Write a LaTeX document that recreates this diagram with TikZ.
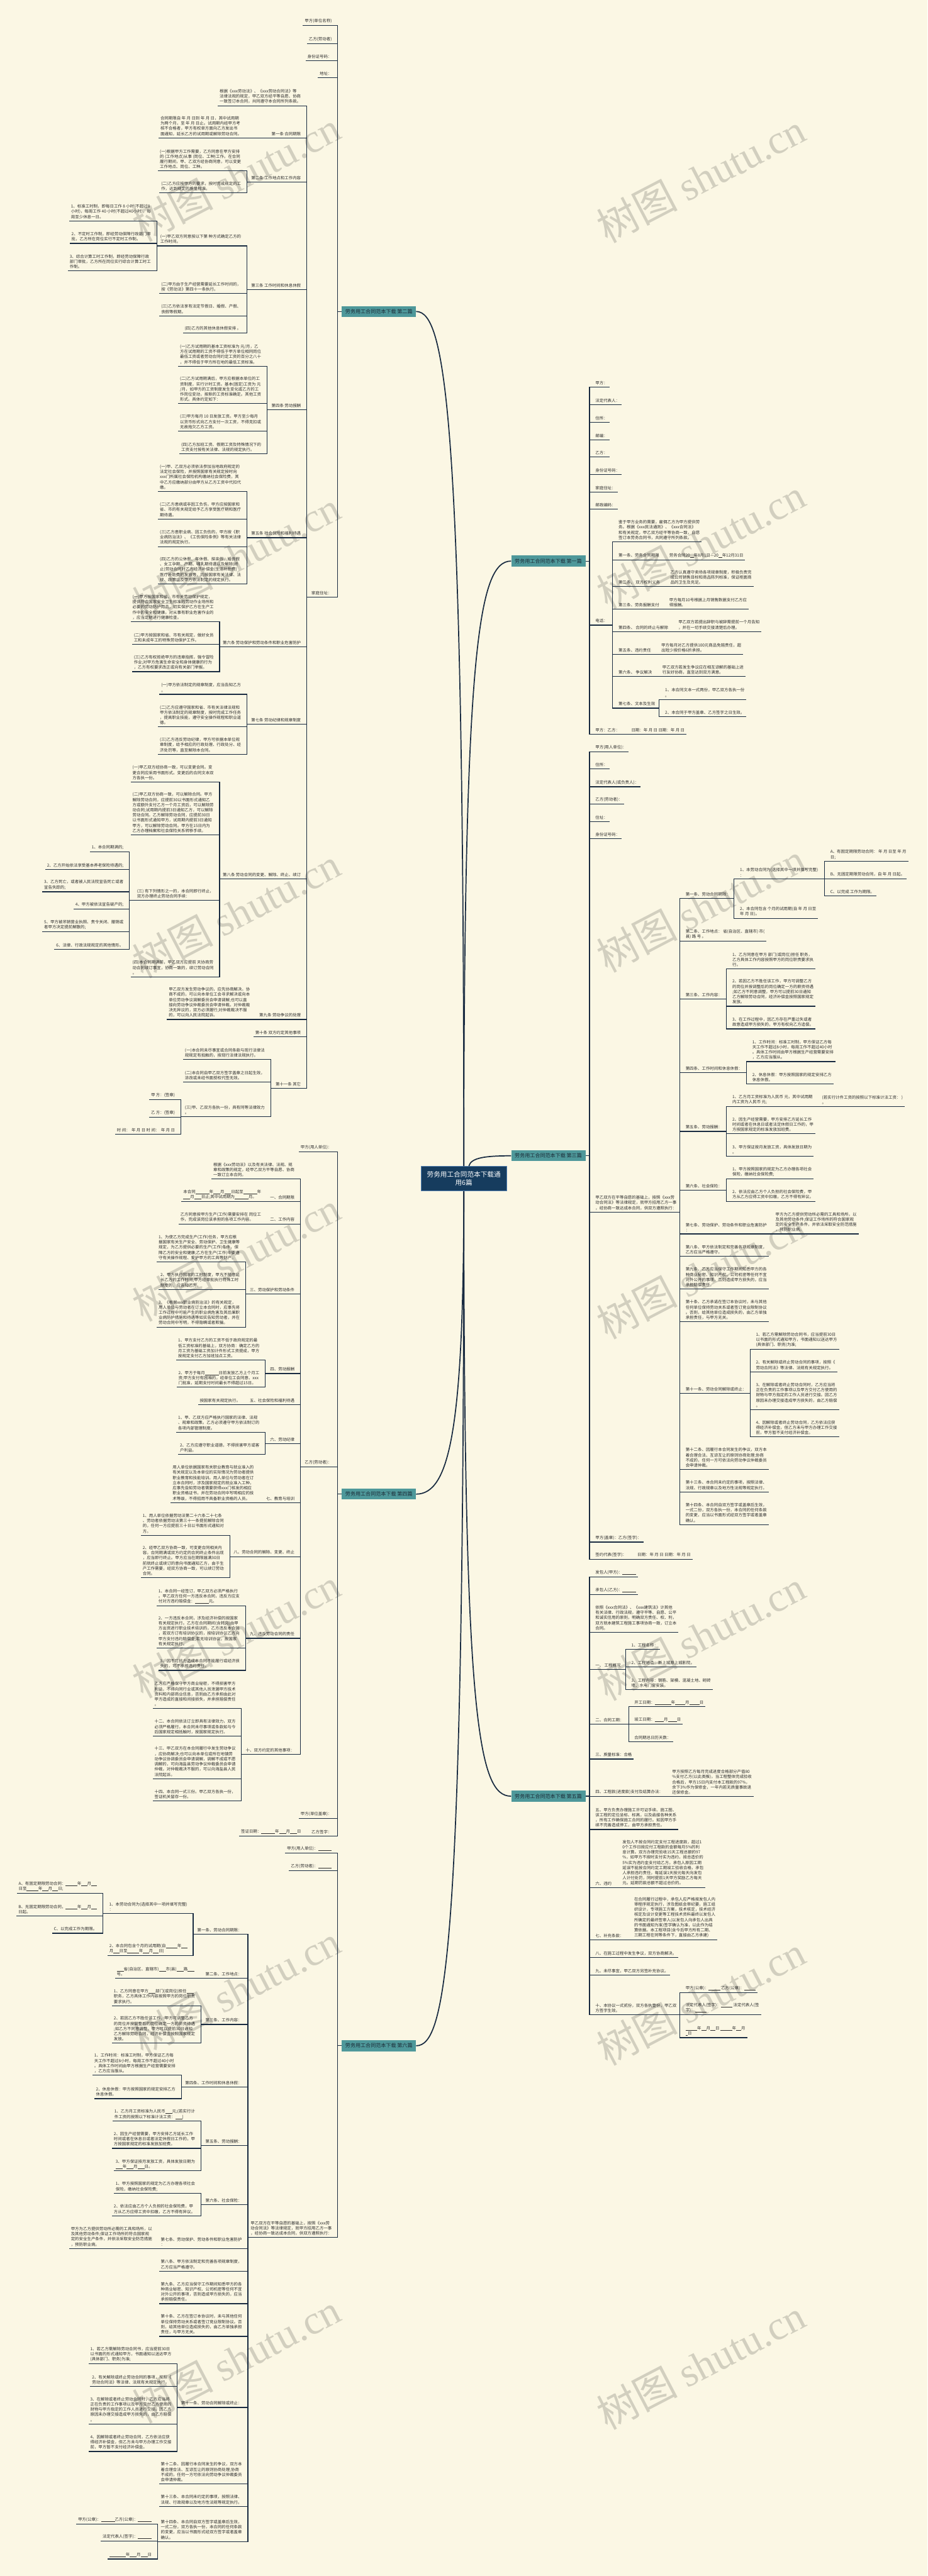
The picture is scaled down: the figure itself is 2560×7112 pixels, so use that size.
\documentclass[tikz,border=0pt]{standalone}
\usepackage{fontspec}
\setmainfont{Noto Sans CJK SC}
\newfontfamily\wmserif{Liberation Serif}

\definecolor{bgc}{RGB}{251,247,228}
\definecolor{linec}{RGB}{24,42,64}
\definecolor{txtc}{RGB}{45,45,45}
\definecolor{tealc}{RGB}{78,152,154}
\definecolor{btxt}{RGB}{28,44,56}
\definecolor{rootc}{RGB}{22,60,94}
\definecolor{rootb}{RGB}{80,125,175}
\definecolor{wmc}{RGB}{210,207,191}

\newcommand\leaffont{\fontsize{11.2}{14.3}\selectfont}
\newcommand\branchfont{\fontsize{14}{17}\selectfont}
\newcommand\rootfont{\fontsize{18.5}{23}\selectfont}
\newcommand\wmfont{\fontsize{112}{120}\selectfont}
\newcommand\blnk[1]{\rule[-1.5pt]{#1pt}{0.6pt}}

\tikzset{
  leaf/.style={align=left, inner xsep=5pt, inner ysep=6pt, text=txtc, font=\leaffont},
  rk/.style={leaf, anchor=south west, xshift=11pt},
  lk/.style={leaf, anchor=south east, xshift=-11pt},
  link/.style={draw=linec, line width=2pt},
  trunk/.style={draw=linec, line width=3pt},
  branch/.style={fill=tealc, text=btxt, font=\branchfont, minimum width=205pt, minimum height=30pt, inner xsep=9pt, inner ysep=0pt},
  root/.style={fill=rootc, draw=rootb, line width=1.5pt, text=white, font=\rootfont, align=center, minimum width=237pt, minimum height=68pt},
  wmark/.style={text=wmc, rotate=27.5, font=\wmfont},
}

\begin{document}
\begin{tikzpicture}[x=1pt, y=-1pt]
\useasboundingbox[fill=bgc] (0,0) rectangle (2560,7112);

% watermark
\node[wmark] (wm1) at (652,487) {树图 {\wmserif shutu.cn}};
\node[wmark] (wm2) at (652,1535) {树图 {\wmserif shutu.cn}};
\node[wmark] (wm3) at (652,2520) {树图 {\wmserif shutu.cn}};
\node[wmark] (wm4) at (652,3469) {树图 {\wmserif shutu.cn}};
\node[wmark] (wm5) at (652,4509) {树图 {\wmserif shutu.cn}};
\node[wmark] (wm6) at (652,5494) {树图 {\wmserif shutu.cn}};
\node[wmark] (wm7) at (652,6511) {树图 {\wmserif shutu.cn}};
\node[wmark] (wm8) at (1934,491) {树图 {\wmserif shutu.cn}};
\node[wmark] (wm9) at (1934,1501) {树图 {\wmserif shutu.cn}};
\node[wmark] (wm10) at (1934,2505) {树图 {\wmserif shutu.cn}};
\node[wmark] (wm11) at (1934,3517) {树图 {\wmserif shutu.cn}};
\node[wmark] (wm12) at (1934,4515) {树图 {\wmserif shutu.cn}};
\node[wmark] (wm13) at (1934,5523) {树图 {\wmserif shutu.cn}};
\node[wmark] (wm14) at (1934,6527) {树图 {\wmserif shutu.cn}};

% centre and the six parts
\node[root] (root) at (1280,3254) {劳务用工合同范本下载通\\用6篇};
\node[branch, anchor=east] (p1) at (1616,1549) {劳务用工合同范本下载 第一篇};
\node[branch, anchor=west] (p2) at (943,860) {劳务用工合同范本下载 第二篇};
\node[branch, anchor=east] (p3) at (1616,3191) {劳务用工合同范本下载 第三篇};
\node[branch, anchor=west] (p4) at (943,4125) {劳务用工合同范本下载 第四篇};
\node[branch, anchor=east] (p5) at (1616,4959) {劳务用工合同范本下载 第五篇};
\node[branch, anchor=west] (p6) at (943,5648) {劳务用工合同范本下载 第六篇};
\draw[trunk] (root.north) .. controls (1280,1150) and (1230,860) .. (p2.east);
\draw[trunk] (root.north) .. controls (1280,1800) and (1320,1549) .. (p1.west);
\draw[trunk] ([xshift=14pt]root.north) .. controls (1300,3196) and (1340,3191) .. (p3.west);
\draw[trunk] (root.south) .. controls (1280,3950) and (1240,4125) .. (p4.east);
\draw[trunk] (root.south) .. controls (1280,4750) and (1320,4959) .. (p5.west);
\draw[trunk] (root.south) .. controls (1280,5400) and (1230,5648) .. (p6.east);

% ---- 第一篇
\coordinate (p1x) at (1627,1549);
\node[rk] (p1a) at (1627,1069) {甲方：};
\node[rk] (p1b) at (1627,1117) {法定代表人：};
\node[rk] (p1c) at (1627,1166) {住所：};
\node[rk] (p1d) at (1627,1214) {邮编：};
\node[rk] (p1e) at (1627,1262) {乙方：};
\node[rk] (p1f) at (1627,1310) {身份证号码：};
\node[rk] (p1g) at (1627,1358) {家庭住址：};
\node[rk] (p1h) at (1627,1406) {邮政编码：};
\node[rk] (p1i) at (1627,1726) {电话：};
\coordinate (p1ix) at (1691,1726);
\node[rk] (p1j) at (1627,2027) {甲方：乙方：\hspace{32pt}日期：年 月 日 日期：年 月 日};
\draw[link] (p1.east) -- (p1x) (p1x) |- (p1a.south east) (p1x) |- (p1b.south east) (p1x) |- (p1c.south east) (p1x) |- (p1d.south east) (p1x) |- (p1e.south east) (p1x) |- (p1f.south east) (p1x) |- (p1g.south east) (p1x) |- (p1h.south east) (p1x) |- (p1ix) (p1x) |- (p1j.south east);
\node[rk] (p1i1) at (1691,1496) {鉴于甲方业务的需要，雇佣乙方为甲方提供劳\\务。根据《xxx民法通则》、《xxx合同法》\\和有关规定，甲乙双方经平等协商一致，自愿\\签订本劳务合同书，共同遵守所列条款。};
\node[rk] (p1i2) at (1691,1545.5) {第一条、劳务合同期限};
\coordinate (p1i2x) at (1831,1545.5);
\node[rk] (p1i2a) at (1831,1545.5) {劳务合同20\blnk{10}年8月1日—20\blnk{10}年12月31日};
\node[rk] (p1i3) at (1691,1619.6) {第二条、 双方权利义务};
\coordinate (p1i3x) at (1834,1619.6);
\node[rk] (p1i3a) at (1834,1619.6) {乙方认真遵守卖场各项规章制度，积极负责完\\成公司销售目标和商品陈列标准，保证柜面商\\品的卫生及充足。};
\node[rk] (p1i4) at (1691,1682) {第三条、劳务报酬支付};
\coordinate (p1i4x) at (1831,1682);
\node[rk] (p1i4a) at (1831,1682) {甲方每月10号根据上月销售数据支付乙方应\\得报酬。};
\node[rk] (p1i5) at (1691,1744) {第四条、 合同的终止与解除};
\coordinate (p1i5x) at (1856,1744);
\node[rk] (p1i5a) at (1856,1744) {甲乙双方若提出辞职与被辞需提前一个月告知\\，并在一切手续交接清楚后办理。};
\node[rk] (p1i6) at (1691,1806.6) {第五条、违约责任};
\coordinate (p1i6x) at (1809,1806.6);
\node[rk] (p1i6a) at (1809,1806.6) {甲方每月对乙方提供100元商品免赔责任，超\\出短少按价格6折承担。};
\node[rk] (p1i7) at (1691,1868) {第六条、 争议解决};
\coordinate (p1i7x) at (1812,1868);
\node[rk] (p1i7a) at (1812,1868) {甲乙双方若发生争议应在相互谅解的基础上进\\行友好协商，直至达到双方满意。};
\node[rk] (p1i8) at (1691,1955) {第七条、文本及生效};
\coordinate (p1i8x) at (1819.5,1955);
\node[rk] (p1i8a) at (1819.5,1931) {1、本合同文本一式两份，甲乙双方各执一份\\。};
\node[rk] (p1i8b) at (1819.5,1979) {2、本合同于甲方盖章、乙方签字之日生效。};
\draw[link] (p1ix) |- (p1i1.south east) (p1ix) |- (p1i2x) (p1ix) |- (p1i3x) (p1ix) |- (p1i4x) (p1ix) |- (p1i5x) (p1ix) |- (p1i6x) (p1ix) |- (p1i7x) (p1ix) |- (p1i8x);
\draw[link] (p1i2x) |- (p1i2a.south east) (p1i3x) |- (p1i3a.south east) (p1i4x) |- (p1i4a.south east) (p1i5x) |- (p1i5a.south east) (p1i6x) |- (p1i6a.south east) (p1i7x) |- (p1i7a.south east);
\draw[link] (p1i8x) |- (p1i8a.south east) (p1i8x) |- (p1i8b.south east);

% ---- 第二篇
\coordinate (p2x) at (932,860);
\node[lk] (p2a) at (932,70) {甲方(单位名称)};
\node[lk] (p2b) at (932,120) {乙方(劳动者)};
\node[lk] (p2c) at (932,167) {身份证号码：};
\node[lk] (p2d) at (932,215) {地址：};
\node[lk] (p2e) at (932,1648) {家庭住址：};
\coordinate (p2ex) at (846.5,1648);
\draw[link] (p2.west) -- (p2x) (p2x) |- (p2a.south west) (p2x) |- (p2b.south west) (p2x) |- (p2c.south west) (p2x) |- (p2d.south west) (p2x) |- (p2ex);
\node[lk] (p2e1) at (846.5,292) {根据《xxx劳动法》、《xxx劳动合同法》等\\法律法规的规定，甲乙双方经平等自愿、协商\\一致签订本合同，共同遵守本合同所列条款。};
\node[lk] (p2e2) at (846.5,381) {第一条 合同期限};
\coordinate (p2e2x) at (683,381);
\node[lk] (p2e2a) at (683,381) {合同期限自 年 月 日到 年 月 日，其中试用期\\为两个月，至 年 月 日止。试用期内经甲方考\\核不合格者，甲方有权单方面向乙方发出书\\面通知，延长乙方的试用期或解除劳动合同。};
\node[lk] (p2e3) at (846.5,502) {第二条 工作地点和工作内容};
\coordinate (p2e3x) at (681.5,502);
\node[lk] (p2e3a) at (681.5,472) {(一)根据甲方工作需要，乙方同意在甲方安排\\的 (工作地点)从事 (岗位、工种)工作。在合同\\履行期间，甲、乙双方经协商同意，可以变更\\工作地点、岗位、工种。};
\node[lk] (p2e3b) at (681.5,532.5) {(二)乙方应按甲方的要求，按时完成规定的工\\作，达到规定的质量标准。};
\node[lk] (p2e4) at (846.5,800) {第三条 工作时间和休息休假};
\coordinate (p2e4x) at (681.5,800);
\node[lk] (p2e4a) at (681.5,679) {(一)甲乙双方同意按以下第 种方式确定乙方的\\工作时间。};
\coordinate (p2e4ax) at (432.7,679);
\node[lk] (p2e4a1) at (432.7,610) {1、标准工时制，即每日工作 8 小时(不超过8\\小时)，每周工作 40 小时(不超过40小时)，每\\周至少休息一日。};
\node[lk] (p2e4a2) at (432.7,672) {2、不定时工作制，即经劳动保障行政部门审\\批，乙方所在岗位实行不定时工作制。};
\node[lk] (p2e4a3) at (432.7,748) {3、综合计算工时工作制，即经劳动保障行政\\部门审批，乙方所在岗位实行综合计算工时工\\作制。};
\node[lk] (p2e4b) at (681.5,810) {(二)甲方由于生产经营需要延长工作时间的，\\按《劳动法》第四十一条执行。};
\node[lk] (p2e4c) at (681.5,872) {(三)乙方依法享有法定节假日、婚假、产假、\\丧假等假期。};
\node[lk] (p2e4d) at (681.5,919) {(四)乙方的其他休息休假安排 。};
\node[lk] (p2e5) at (846.5,1131) {第四条 劳动报酬};
\coordinate (p2e5x) at (737,1131);
\node[lk] (p2e5a) at (737,1011) {(一)乙方试用期的基本工资标准为 元/月，乙\\方在试用期的工资不得低于甲方单位相同岗位\\最低工资或者劳动合同约定工资的百分之八十\\，并不得低于甲方所在地的最低工资标准。};
\node[lk] (p2e5b) at (737,1114.5) {(二)乙方试用期满后，甲方应根据本单位的工\\资制度，实行计时工资。基本(固定)工资为 元\\/月，如甲方的工资制度发生变化或乙方的工\\作岗位变动，按新的工资标准确定。其他工资\\形式。具体约定如下：};
\node[lk] (p2e5c) at (737,1190) {(三)甲方每月 10 日发放工资。甲方至少每月\\以货币形式向乙方支付一次工资，不得克扣或\\无故拖欠乙方工资。};
\node[lk] (p2e5d) at (737,1252.6) {(四)乙方加班工资、假期工资及特殊情况下的\\工资支付按有关法律、法规的规定执行。};
\node[lk] (p2e6) at (846.5,1484.6) {第五条 社会保险和福利待遇};
\coordinate (p2e6x) at (681.5,1484.6);
\node[lk] (p2e6a) at (681.5,1357) {(一)甲、乙双方必须依法参加当地政府规定的\\法定社会保险，并按照国家有关规定按时向\\xxx门所属社会保险机构缴纳社会保险费，其\\中乙方应缴纳部分由甲方从乙方工资中代扣代\\缴。};
\node[lk] (p2e6b) at (681.5,1433) {(二)乙方患病或非因工负伤，甲方应按国家和\\省、市的有关规定给予乙方享受医疗期和医疗\\期待遇。};
\node[lk] (p2e6c) at (681.5,1509) {(三)乙方患职业病、因工负伤的，甲方按《职\\业病防治法》、《工伤保险条例》等有关法律\\法规的规定执行。};
\node[lk] (p2e6d) at (681.5,1612) {(四)乙方的公休假、年休假、探亲假、婚丧假\\、女工孕期、产期、哺乳期待遇以及解除(终\\止)劳动合同时乙方经济补偿金(生活补助费)\\医疗补助费的发放等，均按国家有关法律、法\\规、政策以及甲方依法制定的规定执行。};
\node[lk] (p2e7) at (846.5,1786) {第六条 劳动保护和劳动条件和职业危害防护};
\coordinate (p2e7x) at (606,1786);
\node[lk] (p2e7a) at (606,1716.6) {(一)甲方按国家和省、市有关劳动保护规定，\\提供符合国家安全卫生标准的劳动作业场所和\\必要的劳动防护用品，切实保护乙方在生产工\\作中的安全和健康。对从事有职业危害作业的\\，应当定期进行健康检查。};
\node[lk] (p2e7b) at (606,1779) {(二)甲方按国家和省、市有关规定，做好女员\\工和未成年工的特殊劳动保护工作。};
\node[lk] (p2e7c) at (606,1854.5) {(三)乙方有权拒绝甲方的违章指挥，强令冒险\\作业;对甲方危害生命安全和身体健康的行为\\，乙方有权要求改正或向有关部门举报。};
\node[lk] (p2e8) at (846.5,2000) {第七条 劳动纪律和规章制度};
\coordinate (p2e8x) at (681.5,2000);
\node[lk] (p2e8a) at (681.5,1917) {(一)甲方依法制定的规章制度，应当告知乙方\\。};
\node[lk] (p2e8b) at (681.5,2007) {(二)乙方应遵守国家和省、市有关法律法规和\\甲方依法制定的规章制度，按时完成工作任务\\，提高职业技能，遵守安全操作规程和职业道\\德。};
\node[lk] (p2e8c) at (681.5,2082.5) {(三)乙方违反劳动纪律，甲方可依据本单位规\\章制度，给予相应的行政处理、行政处分、经\\济处罚等，直至解除本合同。};
\node[lk] (p2e9) at (846.5,2427) {第八条 劳动合同的变更、解除、终止、续订};
\coordinate (p2e9x) at (606,2427);
\node[lk] (p2e9a) at (606,2159) {(一)甲乙双方经协商一致，可以变更合同。变\\更合同应采用书面形式。变更后的合同文本双\\方各执一份。};
\node[lk] (p2e9b) at (606,2305) {(二)甲乙双方协商一致，可以解除合同。甲方\\解除劳动合同，应提前30以书面形式通知乙\\方或额外支付乙方一个月工资后，可以解除劳\\动合同;试用期内提前3日通知乙方，可以解除\\劳动合同。乙方解除劳动合同，应提前30日\\以书面形式通知甲方，试用期内提前3日通知\\甲方，可以解除劳动合同。甲方在15日内为\\乙方办理档案和社会保险关系转移手续。};
\node[lk] (p2e9c) at (606,2486) {(三) 有下列情形之一的，本合同即行终止，\\双方办理终止劳动合同手续：};
\coordinate (p2e9cx) at (357,2486);
\node[lk] (p2e9c1) at (357,2352) {1、本合同期满的;};
\node[lk] (p2e9c2) at (357,2401) {2、乙方开始依法享受基本养老保险待遇的;};
\node[lk] (p2e9c3) at (357,2462) {3、乙方死亡，或者被人民法院宣告死亡或者\\宣告失踪的;};
\node[lk] (p2e9c4) at (357,2510) {4、甲方被依法宣告破产的;};
\node[lk] (p2e9c5) at (357,2572) {5、甲方被吊销营业执照、责令关闭、撤销或\\者甲方决定提前解散的;};
\node[lk] (p2e9c6) at (357,2621) {6、法律、行政法规规定的其他情形。};
\node[lk] (p2e9d) at (606,2697) {(四)本合同期满前，甲乙双方应提前 天协商劳\\动合同续订事宜，协商一致的，续订劳动合同\\。};
\node[lk] (p2e10) at (846.5,2814.5) {第九条 劳动争议的处理};
\coordinate (p2e10x) at (706,2814.5);
\node[lk] (p2e10a) at (706,2814.5) {甲乙双方发生劳动争议的，应先协商解决。协\\商不成的，可以向本单位工会寻求解决或向本\\单位劳动争议调解委员会申请调解;也可以直\\接向劳动争议仲裁委员会申请仲裁。对仲裁裁\\决无异议的，双方必须履行;对仲裁裁决不服\\的，可以向人民法院起诉。};
\node[lk] (p2e11) at (846.5,2862) {第十条 双方约定其他事项};
\node[lk] (p2e12) at (846.5,3004) {第十一条 其它};
\coordinate (p2e12x) at (747,3004);
\node[lk] (p2e12a) at (747,2925) {(一)本合同未尽事宜或合同条款与现行法律法\\规规定有抵触的，按现行法律法规执行。};
\node[lk] (p2e12b) at (747,2987.5) {(二)本合同自甲乙双方签字盖章之日起生效，\\涂改或未经书面授权代签无效。};
\node[lk] (p2e12c) at (747,3083) {(三)甲、乙双方各执一份，具有同等法律效力\\。};
\coordinate (p2e12cx) at (499,3083);
\node[lk] (p2e12c1) at (499,3036) {甲 方：(签章)};
\node[lk] (p2e12c2) at (499,3084) {乙 方：(签章)};
\node[lk] (p2e12c3) at (499,3131) {时 间：\hspace{4pt}年 月 日 时 间：\hspace{4pt}年 月 日};
\draw[link] (p2ex) |- (p2e1.south west) (p2ex) |- (p2e2x) (p2ex) |- (p2e3x) (p2ex) |- (p2e4x) (p2ex) |- (p2e5x) (p2ex) |- (p2e6x) (p2ex) |- (p2e7x) (p2ex) |- (p2e8x) (p2ex) |- (p2e9x) (p2ex) |- (p2e10x) (p2ex) |- (p2e11.south west) (p2ex) |- (p2e12x);
\draw[link] (p2e2x) |- (p2e2a.south west) (p2e10x) |- (p2e10a.south west);
\draw[link] (p2e3x) |- (p2e3a.south west) (p2e3x) |- (p2e3b.south west);
\draw[link] (p2e4x) |- (p2e4ax) (p2e4x) |- (p2e4b.south west) (p2e4x) |- (p2e4c.south west) (p2e4x) |- (p2e4d.south west);
\draw[link] (p2e4ax) |- (p2e4a1.south west) (p2e4ax) |- (p2e4a2.south west) (p2e4ax) |- (p2e4a3.south west);
\draw[link] (p2e5x) |- (p2e5a.south west) (p2e5x) |- (p2e5b.south west) (p2e5x) |- (p2e5c.south west) (p2e5x) |- (p2e5d.south west);
\draw[link] (p2e6x) |- (p2e6a.south west) (p2e6x) |- (p2e6b.south west) (p2e6x) |- (p2e6c.south west) (p2e6x) |- (p2e6d.south west);
\draw[link] (p2e7x) |- (p2e7a.south west) (p2e7x) |- (p2e7b.south west) (p2e7x) |- (p2e7c.south west);
\draw[link] (p2e8x) |- (p2e8a.south west) (p2e8x) |- (p2e8b.south west) (p2e8x) |- (p2e8c.south west);
\draw[link] (p2e9x) |- (p2e9a.south west) (p2e9x) |- (p2e9b.south west) (p2e9x) |- (p2e9cx) (p2e9x) |- (p2e9d.south west);
\draw[link] (p2e9cx) |- (p2e9c1.south west) (p2e9cx) |- (p2e9c2.south west) (p2e9cx) |- (p2e9c3.south west) (p2e9cx) |- (p2e9c4.south west) (p2e9cx) |- (p2e9c5.south west) (p2e9cx) |- (p2e9c6.south west);
\draw[link] (p2e12x) |- (p2e12a.south west) (p2e12x) |- (p2e12b.south west) (p2e12x) |- (p2e12cx);
\draw[link] (p2e12cx) |- (p2e12c1.south west) (p2e12cx) |- (p2e12c2.south west) (p2e12cx) |- (p2e12c3.south west);

% ---- 第三篇
\coordinate (p3x) at (1627,3191);
\node[rk] (p3a) at (1627,2076) {甲方(用人单位)：};
\node[rk] (p3b) at (1627,2123) {住所：};
\node[rk] (p3c) at (1627,2172) {法定代表人(或负责人)：};
\node[rk] (p3d) at (1627,2220) {乙方(劳动者)：};
\node[rk] (p3e) at (1627,2268) {住址：};
\node[rk] (p3f) at (1627,2315.5) {身份证号码：};
\node[rk] (p3g) at (1627,3346.6) {甲乙双方在平等自愿的基础上，按照《xxx劳\\动合同法》等法律规定，就甲方招用乙方一事\\，经协商一致达成本合同，供双方遵照执行：};
\coordinate (p3gx) at (1876,3346.6);
\node[rk] (p3h) at (1627,4257.4) {甲方(盖章)：乙方(签字)：};
\node[rk] (p3i) at (1627,4305) {签约代表(签字)：\hspace{30pt}日期：年 月 日 日期：年 月 日};
\draw[link] (p3.east) -- (p3x) (p3x) |- (p3a.south east) (p3x) |- (p3b.south east) (p3x) |- (p3c.south east) (p3x) |- (p3d.south east) (p3x) |- (p3e.south east) (p3x) |- (p3f.south east) (p3x) |- (p3gx) (p3x) |- (p3h.south east) (p3x) |- (p3i.south east);
\node[rk] (p3g1) at (1876,2481) {第一条、劳动合同期限：};
\coordinate (p3g1x) at (2026,2481);
\node[rk] (p3g1a) at (2026,2427) {1、本劳动合同为(选择其中一项并填写完整)\\：};
\coordinate (p3g1ax) at (2275.5,2427);
\node[rk] (p3g1a1) at (2275.5,2378.6) {A、有固定期限劳动合同： 年 月 日至 年 月\\日;};
\node[rk] (p3g1a2) at (2275.5,2426) {B、无固定期限劳动合同，自 年 月 日起。};
\node[rk] (p3g1a3) at (2275.5,2474) {C、以完成 工作为期限。};
\node[rk] (p3g1b) at (2026,2536) {2、本合同包含 个月的试用期(自 年 月 日至\\年 月 日)。};
\node[rk] (p3g2) at (1876,2598) {第二条、工作地点： 省(自治区、直辖市) 市(\\县) 路 号 。};
\node[rk] (p3g3) at (1876,2758) {第三条、工作内容：};
\coordinate (p3g3x) at (2005,2758);
\node[rk] (p3g3a) at (2005,2675) {1、乙方同意在甲方 部门(或岗位)担任 职务，\\乙方具体工作内容按照甲方的岗位职责要求执\\行。};
\node[rk] (p3g3b) at (2005,2778) {2、若因乙方不胜任该工作，甲方可调整乙方\\的岗位并按调整后的岗位确定一方的薪资待遇\\;如乙方不同意调整，甲方可以提前30日通知\\乙方解除劳动合同，经济补偿金按照国家规定\\发放。};
\node[rk] (p3g3c) at (2005,2840.6) {3、在工作过程中，因乙方存在严重过失或者\\故意造成甲方损失的，甲方有权向乙方追偿。};
\node[rk] (p3g4) at (1876,2961.6) {第四条、工作时间和休息休假：};
\coordinate (p3g4x) at (2060,2961.6);
\node[rk] (p3g4a) at (2060,2931) {1、工作时间：标准工时制，甲方保证乙方每\\天工作不超过8小时，每周工作不超过40小时\\。具体工作时间由甲方根据生产经营需要安排\\，乙方应当服从。};
\node[rk] (p3g4b) at (2060,2992.4) {2、休息休假：甲方按照国家的规定安排乙方\\休息休假。};
\node[rk] (p3g5) at (1876,3123.7) {第五条、劳动报酬：};
\coordinate (p3g5x) at (2005,3123.7);
\node[rk] (p3g5a) at (2005,3054.8) {1、乙方月工资标准为人民币 元，其中试用期\\内工资为人民币 元;};
\coordinate (p3g5ax) at (2252.6,3054.8);
\node[rk] (p3g5a1) at (2252.6,3054.8) {(若实行计件工资的按照以下标准计法工资： )\\。};
\node[rk] (p3g5b) at (2005,3130.3) {2、因生产经营需要，甲方安排乙方延长工作\\时间或者在休息日或者法定休假日工作的，甲\\方按国家规定的标准发放加班费。};
\node[rk] (p3g5c) at (2005,3192.5) {3、甲方保证按月发放工资，具体发放日期为\\。};
\node[rk] (p3g6) at (1876,3285.7) {第六条、社会保险：};
\coordinate (p3g6x) at (2005,3285.7);
\node[rk] (p3g6a) at (2005,3255) {1、甲方按照国家的规定为乙方办理各项社会\\保险，缴纳社会保险费;};
\node[rk] (p3g6b) at (2005,3316.5) {2、依法应由乙方个人负担的社会保险费，甲\\方从乙方应得工资中扣缴，乙方不得有异议。};
\node[rk] (p3g7) at (1876,3406.7) {第七条、劳动保护、劳动条件和职业危害防护\\：};
\coordinate (p3g7x) at (2124,3406.7);
\node[rk] (p3g7a) at (2124,3406.7) {甲方为乙方提供劳动所必需的工具和场所，以\\及其他劳动条件;保证工作场所的符合国家规\\定的安全生产条件，并依法采取安全防范措施\\，预防职业病。};
\node[rk] (p3g8) at (1876,3469) {第八条、甲方依法制定和完善各项规章制度，\\乙方应当严格遵守。};
\node[rk] (p3g9) at (1876,3559) {第九条、乙方应当保守工作期间知悉甲方的各\\种商业秘密、知识产权、公司机密等任何不宜\\对外公开的事项，否则造成甲方损失的，应当\\承担赔偿责任。};
\node[rk] (p3g10) at (1876,3649.5) {第十条、乙方承诺在签订本协议时，未与其他\\任何单位保持劳动关系或者签订竞业限制协议\\。否则，给其他单位造成损失的，由乙方单独\\承担责任，与甲方无关。};
\node[rk] (p3g11) at (1876,3846.7) {第十一条、劳动合同解除或终止：};
\coordinate (p3g11x) at (2070,3846.7);
\node[rk] (p3g11a) at (2070,3725.7) {1、若乙方需解除劳动合同书，应当提前30日\\以书面的形式通知甲方，书面通知以送达甲方\\(具体部门、职务)为准;};
\node[rk] (p3g11b) at (2070,3787.3) {2、有关解除或终止劳动合同的事项，按照《\\劳动合同法》等法律、法规有关规定执行。};
\node[rk] (p3g11c) at (2070,3891.5) {3、在解除或者终止劳动合同时，乙方应当将\\正在负责的工作事项以及甲方交付乙方使用的\\财物与甲方指定的工作人员进行交接。因乙方\\原因未办理交接造成甲方损失的，由乙方赔偿\\。};
\node[rk] (p3g11d) at (2070,3967) {4、因解除或者终止劳动合同，乙方依法应获\\得经济补偿金，但乙方未与甲方办理工作交接\\前，甲方暂不支付经济补偿金。};
\node[rk] (p3g12) at (1876,4057) {第十二条、因履行本合同发生的争议，双方本\\着合理合法、互谅互让的原则协商处理;协商\\不成的，任何一方可依法向劳动争议仲裁委员\\会申请仲裁。};
\node[rk] (p3g13) at (1876,4119) {第十三条、本合同未约定的事项，按照法律、\\法规、行政规章以及地方性法规等规定执行。};
\node[rk] (p3g14) at (1876,4209) {第十四条、本合同自双方签字或盖章后生效，\\一式二份，双方各执一份，本合同的任何条款\\的变更，应当以书面形式经双方签字或者盖章\\确认。};
\draw[link] (p3gx) |- (p3g1x) (p3gx) |- (p3g2.south east) (p3gx) |- (p3g3x) (p3gx) |- (p3g4x) (p3gx) |- (p3g5x) (p3gx) |- (p3g6x) (p3gx) |- (p3g7x) (p3gx) |- (p3g8.south east) (p3gx) |- (p3g9.south east) (p3gx) |- (p3g10.south east) (p3gx) |- (p3g11x) (p3gx) |- (p3g12.south east) (p3gx) |- (p3g13.south east) (p3gx) |- (p3g14.south east);
\draw[link] (p3g1x) |- (p3g1ax) (p3g1x) |- (p3g1b.south east);
\draw[link] (p3g1ax) |- (p3g1a1.south east) (p3g1ax) |- (p3g1a2.south east) (p3g1ax) |- (p3g1a3.south east);
\draw[link] (p3g3x) |- (p3g3a.south east) (p3g3x) |- (p3g3b.south east) (p3g3x) |- (p3g3c.south east);
\draw[link] (p3g4x) |- (p3g4a.south east) (p3g4x) |- (p3g4b.south east);
\draw[link] (p3g5x) |- (p3g5ax) (p3g5x) |- (p3g5b.south east) (p3g5x) |- (p3g5c.south east) (p3g5ax) |- (p3g5a1.south east);
\draw[link] (p3g6x) |- (p3g6a.south east) (p3g6x) |- (p3g6b.south east) (p3g7x) |- (p3g7a.south east);
\draw[link] (p3g11x) |- (p3g11a.south east) (p3g11x) |- (p3g11b.south east) (p3g11x) |- (p3g11c.south east) (p3g11x) |- (p3g11d.south east);

% ---- 第四篇
\coordinate (p4x) at (932,4125);
\node[lk] (p4a) at (932,3180) {甲方(用人单位)：};
\node[lk] (p4b) at (932,4050) {乙方(劳动者)：};
\coordinate (p4bx) at (829,4050);
\node[lk] (p4c) at (932,5020) {甲方(单位盖章)：};
\node[lk] (p4d) at (932,5068.6) {乙方签字：};
\coordinate (p4dx) at (847,5068.6);
\node[lk] (p4d1) at (847,5068.6) {签证日期：\blnk{38}年\blnk{19}月\blnk{19}日};
\draw[link] (p4.west) -- (p4x) (p4x) |- (p4a.south west) (p4x) |- (p4bx) (p4x) |- (p4c.south west) (p4x) |- (p4dx) (p4dx) |- (p4d1.south west);
\node[lk] (p4b1) at (829,3255.4) {根据《xxx劳动法》以及有关法律、法规、规\\章和政策的规定，经甲乙双方平等自愿、协商\\一致订立本合同。};
\node[lk] (p4b2) at (829,3317.6) {一、合同期限};
\coordinate (p4b2x) at (737,3317.6);
\node[lk] (p4b2a) at (737,3317.6) {本合同\blnk{38}年\blnk{19}月\blnk{19}日起至\blnk{38}年\\\blnk{19}月\blnk{19}日止;其中试用期为\blnk{38}月。};
\node[lk] (p4b3) at (829,3379) {二、工作内容};
\coordinate (p4b3x) at (737,3379);
\node[lk] (p4b3a) at (737,3379) {乙方同意按甲方生产(工作)需要安排在 岗位工\\作，完成该岗位该承担的各项工作内容。};
\node[lk] (p4b4) at (829,3573) {三、劳动保护和劳动条件};
\coordinate (p4b4x) at (678,3573);
\node[lk] (p4b4a) at (678,3484) {1、为使乙方完成生产(工作)任务，甲方应根\\据国家有关生产安全、劳动保护、卫生健康等\\规定，为乙方提供必要的生产(工作)条件，保\\障乙方的安全和健康;乙方在生产(工作)中要遵\\守有关操作规程、爱护甲方的工具等财产。};
\node[lk] (p4b4b) at (678,3560) {2、甲方执行国家的工时制度，甲方不随意延\\长乙方的工作时间;甲方经审批执行特殊工时\\制度的，应告知乙方。};
\node[lk] (p4b4c) at (678,3664) {3、《根据xxx职业病防治法》的有关规定，\\用人单位与劳动者在订立本合同时，应事先将\\工作过程中可能产生的职业病危害及其后果职\\业病防护措施和待遇等如实告知劳动者，并在\\劳动合同中写明，不得隐瞒或者欺骗。};
\node[lk] (p4b5) at (829,3792) {四、劳动报酬};
\coordinate (p4b5x) at (732,3792);
\node[lk] (p4b5a) at (732,3755) {1、甲方支付乙方的工资不低于政府规定的最\\低工资标准的基础上，双方协商：确定乙方的\\月工资为基础工资加计件形式工资提成，甲方\\按规定支付乙方加班加点工资。};
\node[lk] (p4b5b) at (732,3830) {2、甲方于每月\blnk{38}日前发放乙方上个月工\\资;甲方支付有困难的，经单位工会同意、xxx\\门批准，延期支付时间最长不得超过15日。};
\node[lk] (p4b6) at (829,3878) {五、社会保险和福利待遇};
\coordinate (p4b6x) at (679.5,3878);
\node[lk] (p4b6a) at (679.5,3878) {按国家有关规定执行。};
\node[lk] (p4b7) at (829,3986) {六、劳动纪律};
\coordinate (p4b7x) at (732,3986);
\node[lk] (p4b7a) at (732,3954) {1、甲、乙双方应严格执行国家的法律、法规\\、规章和政策。乙方必须遵守甲方依法制订的\\各项内部管理制度。};
\node[lk] (p4b7b) at (732,4015) {2、乙方应遵守职业道德，不得损害甲方或客\\户利益。};
\node[lk] (p4b8) at (829,4148.5) {七、教育与培训};
\coordinate (p4b8x) at (716.7,4148.5);
\node[lk] (p4b8a) at (716.7,4148.5) {用人单位依据国家有关职业教育与就业准入的\\有关规定以及本单位的实际情况为劳动者提供\\职业教育和技能培训。用人单位与劳动者在订\\立本合同时，涉及国家规定的就业准入工种，\\应事先告知劳动者需要获得xxx门核发的相应\\职业资格证书，并在劳动合同中写明相应的技\\术等级，不得招用不具备职业资格的人员。};
\node[lk] (p4b9) at (829,4297.5) {八、劳动合同的解除、变更、终止};
\coordinate (p4b9x) at (634,4297.5);
\node[lk] (p4b9a) at (634,4238.6) {1、用人单位依据劳动法第二十六条二十七条\\、劳动者依据劳动法第三十一条提前解除合同\\的，任何一方应提前三十日以书面形式通知对\\方。};
\node[lk] (p4b9b) at (634,4355.7) {2、经甲乙双方协商一致，可变更合同相关内\\容。合同期满或双方约定的合同终止条件出现\\，应当即行终止。甲方应当在期限届满30日\\前就终止或续订的意向书面通知乙方，由于生\\产工作需要，经双方协商一致，可以续订劳动\\合同。};
\node[lk] (p4b10) at (829,4523) {九、违反劳动合同的责任};
\coordinate (p4b10x) at (677.5,4523);
\node[lk] (p4b10a) at (677.5,4433) {1、本合同一经签订，甲乙双方必须严格执行\\。甲乙双方任何一方违反本合同，违反方应支\\付对方违约赔偿金：\blnk{38}元。};
\node[lk] (p4b10b) at (677.5,4550) {2、一方违反本合同，涉及经济补偿的按国家\\有关规定执行。乙方在合同期间(含转岗)由甲\\方出资进行职业技术培训的，乙方违反本合同\\，若双方订有培训协议的，按培训协议乙方向\\甲方支付违约赔偿金;若无培训协议，按国家\\有关规定执行。};
\node[lk] (p4b10c) at (677.5,4611.6) {3、因不可抗力造成本合同不能履行或经济损\\失的，可不承担违约责任。};
\node[lk] (p4b11) at (829,4843.8) {十、双方约定的其他事项：};
\coordinate (p4b11x) at (666.6,4843.8);
\node[lk] (p4b11a) at (666.6,4717) {乙方应严格保守甲方商业秘密，不得损害甲方\\利益，不得向同行业或其他人员泄漏甲方技术\\资料和内部商业信息，否则由乙方承担由此对\\甲方造成的直接和间接损失，并承担赔偿责任\\。};
\node[lk] (p4b11b) at (666.6,4793.4) {十二、本合同依法订立即具有法律效力，双方\\必须严格履行。本合同未尽事项或条款如与今\\后国家规定相抵触时，按国家规定执行。};
\node[lk] (p4b11c) at (666.6,4910.8) {十三、甲乙双方在本合同履行中发生劳动争议\\，应协商解决;也可以向本单位或所在地镇劳\\动争议协调委员会申请调解，调解不成或不愿\\调解的，可向海盐县劳动争议仲裁委员会申请\\仲裁，对仲裁裁决不服的，可以向海盐县人民\\法院起诉。};
\node[lk] (p4b11d) at (666.6,4972) {十四、本合同一式三份。甲乙双方各执一份，\\签证机关留存一份。};
\draw[link] (p4bx) |- (p4b1.south west) (p4bx) |- (p4b2x) (p4bx) |- (p4b3x) (p4bx) |- (p4b4x) (p4bx) |- (p4b5x) (p4bx) |- (p4b6x) (p4bx) |- (p4b7x) (p4bx) |- (p4b8x) (p4bx) |- (p4b9x) (p4bx) |- (p4b10x) (p4bx) |- (p4b11x);
\draw[link] (p4b2x) |- (p4b2a.south west) (p4b3x) |- (p4b3a.south west) (p4b6x) |- (p4b6a.south west) (p4b8x) |- (p4b8a.south west);
\draw[link] (p4b4x) |- (p4b4a.south west) (p4b4x) |- (p4b4b.south west) (p4b4x) |- (p4b4c.south west);
\draw[link] (p4b5x) |- (p4b5a.south west) (p4b5x) |- (p4b5b.south west) (p4b7x) |- (p4b7a.south west) (p4b7x) |- (p4b7b.south west);
\draw[link] (p4b9x) |- (p4b9a.south west) (p4b9x) |- (p4b9b.south west);
\draw[link] (p4b10x) |- (p4b10a.south west) (p4b10x) |- (p4b10b.south west) (p4b10x) |- (p4b10c.south west);
\draw[link] (p4b11x) |- (p4b11a.south west) (p4b11x) |- (p4b11b.south west) (p4b11x) |- (p4b11c.south west) (p4b11x) |- (p4b11d.south west);

% ---- 第五篇
\coordinate (p5x) at (1627,4959);
\node[rk] (p5a) at (1627,4354) {发包人(甲方)：\blnk{38}};
\node[rk] (p5b) at (1627,4402.5) {承包人(乙方)：\blnk{38}};
\node[rk] (p5c) at (1627,4506.7) {依照《xxx合同法》、《xxx建筑法》计其他\\有关法律、行政法规，遵守平等、自愿、公平\\和诚实信用的原则，明确双方责任、权、利，\\双方就本建筑工程施工事项协商一致，订立本\\合同。};
\node[rk] (p5d) at (1627,4609.4) {一、 工程概况};
\coordinate (p5dx) at (1726.6,4609.4);
\node[rk] (p5d1) at (1726.6,4553.6) {1、工程名称：};
\node[rk] (p5d2) at (1726.6,4602) {2、工程地点：新上城原上城影院。};
\node[rk] (p5d3) at (1726.6,4664.4) {3、工程内容：钢筋、架模、混凝土地、砌砖\\墙、水电门窗安装。};
\node[rk] (p5e) at (1627,4760.5) {二、合同工期：};
\coordinate (p5ex) at (1734.8,4760.5);
\node[rk] (p5e1) at (1734.8,4712) {开工日期：\blnk{45}年\blnk{28}月\blnk{28}日};
\node[rk] (p5e2) at (1734.8,4759.7) {竣工日期：\blnk{25}月\blnk{25}日};
\node[rk] (p5e3) at (1734.8,4809) {合同期总日历天数：};
\node[rk] (p5f) at (1627,4856.5) {三、质量标准：合格};
\node[rk] (p5g) at (1627,4960) {四、工程款(进度款)支付及结算办法：};
\coordinate (p5gx) at (1839,4960);
\node[rk] (p5g1) at (1839,4960) {甲方按照乙方每月完成进度合格部分产值80\\\%支付乙方(以此类推)，当工程整体完成验收\\合格后，甲方15日内支付本工程款的97\%，\\余下3\%作为保修金，一年内若无质量事故退\\还保修金。};
\node[rk] (p5h) at (1627,5051) {五、甲方负责办理施工许可证手续、施工图、\\该工程的定位坐标、标高，以及函接各种关系\\，所有工作确保施工合同的履行。如因甲方手\\续不完善造成停工，由甲方承担责任。};
\node[rk] (p5i) at (1627,5210.8) {六、违约};
\coordinate (p5ix) at (1701.6,5210.8);
\node[rk] (p5i1) at (1701.6,5210.8) {发包人不按合同约定支付工程进度款，超过1\\0个工作日按应付工程款的金额每月5\%的利\\息计算。双方办理完验收15天工程总额的97\\\%，如甲方不按时支付实为违约，按总造价的\\5\%实为违约金支付给乙方。承包人原因工期\\延误不能按合同约定工期竣工验收合格，承包\\人承担违约责任，每延误1天按元每天向发包\\人计付处罚，同时提前1天甲方奖励乙方每天\\元。延期罚款总额不超过总价的。};
\node[rk] (p5j) at (1627,5356) {七、补充条款：};
\coordinate (p5jx) at (1734,5356);
\node[rk] (p5j1) at (1734,5356) {在合同履行过程中，承包人应严格按发包人内\\审程序规定执行，涉及图纸会审纪要，施工组\\织设计，专项施工方案，技术核定，技术经济\\核定及设计变更等工程技术资料最终以发包人\\所确定的最终签审人(以发包人向承包人出具\\的书面通知为准)签字确认为准，以此作为结\\算依据。本工程项目(含今后甲方所有二期、\\三期工程在同等条件下，直接由乙方承建)};
\node[rk] (p5k) at (1627,5404.8) {八、在施工过程中发生争议，双方协商解决。};
\node[rk] (p5l) at (1627,5453.3) {九、未尽事宜，甲乙双方另签补充协议。};
\node[rk] (p5m) at (1627,5562.4) {十、本协议一式贰份，双方各执壹份，甲乙双\\方签字生效。};
\coordinate (p5mx) at (1876,5562.4);
\node[rk] (p5m1) at (1876,5501) {甲方(公章)：\blnk{32} 乙方(公章)：\blnk{32}};
\node[rk] (p5m2) at (1876,5562.4) {法定代表人(签字)：\blnk{32} 法定代表人(签\\字)：\blnk{32}};
\node[rk] (p5m3) at (1876,5625.5) {\blnk{32}年\blnk{14}月\blnk{14}日 \blnk{32}年\blnk{14}月\\\blnk{6}日};
\draw[link] (p5.east) -- (p5x) (p5x) |- (p5a.south east) (p5x) |- (p5b.south east) (p5x) |- (p5c.south east) (p5x) |- (p5dx) (p5x) |- (p5ex) (p5x) |- (p5f.south east) (p5x) |- (p5gx) (p5x) |- (p5h.south east) (p5x) |- (p5ix) (p5x) |- (p5jx) (p5x) |- (p5k.south east) (p5x) |- (p5l.south east) (p5x) |- (p5mx);
\draw[link] (p5dx) |- (p5d1.south east) (p5dx) |- (p5d2.south east) (p5dx) |- (p5d3.south east);
\draw[link] (p5ex) |- (p5e1.south east) (p5ex) |- (p5e2.south east) (p5ex) |- (p5e3.south east);
\draw[link] (p5gx) |- (p5g1.south east) (p5ix) |- (p5i1.south east) (p5jx) |- (p5j1.south east);
\draw[link] (p5mx) |- (p5m1.south east) (p5mx) |- (p5m2.south east) (p5mx) |- (p5m3.south east);

% ---- 第六篇
\coordinate (p6x) at (932,5648);
\node[lk] (p6a) at (932,5116.5) {甲方(用人单位)：\blnk{38}};
\node[lk] (p6b) at (932,5165) {乙方(劳动者)：\blnk{38}};
\node[lk] (p6c) at (932,6177.5) {甲乙双方在平等自愿的基础上，按照《xxx劳\\动合同法》等法律规定，就甲方招用乙方一事\\，经协商一致达成本合同，供双方遵照执行：};
\coordinate (p6cx) at (684,6177.5);
\draw[link] (p6.west) -- (p6x) (p6x) |- (p6a.south west) (p6x) |- (p6b.south west) (p6x) |- (p6cx);
\node[lk] (p6c1) at (684,5340.5) {第一条、劳动合同期限：};
\coordinate (p6c1x) at (533,5340.5);
\node[lk] (p6c1a) at (533,5282.3) {1、本劳动合同为(选择其中一项并填写完整)\\：};
\coordinate (p6c1ax) at (284,5282.3);
\node[lk] (p6c1a1) at (284,5227.3) {A、有固定期限劳动合同：\blnk{32}年\blnk{16}月\blnk{16}\\日至\blnk{32}年\blnk{16}月\blnk{16}日;};
\node[lk] (p6c1a2) at (284,5289.5) {B、无固定期限劳动合同，\blnk{32}年\blnk{16}月\blnk{16}\\日起。};
\node[lk] (p6c1a3) at (284,5337.3) {C、以完成工作为期限。};
\node[lk] (p6c1b) at (533,5398.7) {2、本合同包含个月的试用期(自\blnk{32}年\blnk{16}\\月\blnk{16}日至\blnk{32}年\blnk{16}月\blnk{16}日)};
\node[lk] (p6c2) at (684,5461.7) {第二条、工作地点：};
\coordinate (p6c2x) at (553,5461.7);
\node[lk] (p6c2a) at (553,5461.7) {\blnk{19}省(自治区、直辖市)\blnk{19}市(县)\blnk{19}路\blnk{19}\\号。};
\node[lk] (p6c3) at (684,5589.2) {第三条、工作内容：};
\coordinate (p6c3x) at (554.4,5589.2);
\node[lk] (p6c3a) at (554.4,5537.4) {1、乙方同意在甲方\blnk{19}部门(或岗位)担任\blnk{19}\\职务，乙方具体工作内容按照甲方的岗位职责\\要求执行。};
\node[lk] (p6c3b) at (554.4,5641) {2、若因乙方不胜任该工作，甲方可调整乙方\\的岗位并按调整后的岗位确定一方的薪资待遇\\;如乙方不同意调整，甲方可以提前30日通知\\乙方解除劳动合同，经济补偿金按照国家规定\\发放。};
\node[lk] (p6c4) at (684,5762.2) {第四条、工作时间和休息休假：};
\coordinate (p6c4x) at (500.3,5762.2);
\node[lk] (p6c4a) at (500.3,5729.6) {1、工作时间：标准工时制，甲方保证乙方每\\天工作不超过8小时，每周工作不超过40小时\\。具体工作时间由甲方根据生产经营需要安排\\，乙方应当服从。};
\node[lk] (p6c4b) at (500.3,5794) {2、休息休假：甲方按照国家的规定安排乙方\\休息休假。};
\node[lk] (p6c5) at (684,5924) {第五条、劳动报酬：};
\coordinate (p6c5x) at (554.4,5924);
\node[lk] (p6c5a) at (554.4,5856.3) {1、乙方月工资标准为人民币\blnk{19}元;(若实行计\\件工资的按照以下标准计法工资：\blnk{19})};
\node[lk] (p6c5b) at (554.4,5931.2) {2、因生产经营需要，甲方安排乙方延长工作\\时间或者在休息日或者法定休假日工作的，甲\\方按国家规定的标准发放加班费。};
\node[lk] (p6c5c) at (554.4,5993.4) {3、甲方保证按月发放工资，具体发放日期为\\\blnk{19}年\blnk{19}月\blnk{19}日。};
\node[lk] (p6c6) at (684,6086.4) {第六条、社会保险：};
\coordinate (p6c6x) at (554.4,6086.4);
\node[lk] (p6c6a) at (554.4,6056) {1、甲方按照国家的规定为乙方办理各项社会\\保险，缴纳社会保险费;};
\node[lk] (p6c6b) at (554.4,6117.5) {2、依法应由乙方个人负担的社会保险费，甲\\方从乙方应得工资中扣缴，乙方不得有异议。};
\node[lk] (p6c7) at (684,6208) {第七条、劳动保护、劳动条件和职业危害防护\\：};
\coordinate (p6c7x) at (436,6208);
\node[lk] (p6c7a) at (436,6208) {甲方为乙方提供劳动所必需的工具和场所，以\\及其他劳动条件;保证工作场所的符合国家规\\定的安全生产条件，并依法采取安全防范措施\\，预防职业病。};
\node[lk] (p6c8) at (684,6270.2) {第八条、甲方依法制定和完善各项规章制度，\\乙方应当严格遵守。};
\node[lk] (p6c9) at (684,6360) {第九条、乙方应当保守工作期间知悉甲方的各\\种商业秘密、知识产权、公司机密等任何不宜\\对外公开的事项，否则造成甲方损失的，应当\\承担赔偿责任。};
\node[lk] (p6c10) at (684,6450.3) {第十条、乙方在签订本协议时，未与其他任何\\单位保持劳动关系或者签订竞业限制协议。否\\则，给其他单位造成损失的，由乙方单独承担\\责任，与甲方无关。};
\node[lk] (p6c11) at (684,6646.7) {第十一条、劳动合同解除或终止：};
\coordinate (p6c11x) at (489.5,6646.7);
\node[lk] (p6c11a) at (489.5,6526) {1、若乙方需解除劳动合同书，应当提前30日\\以书面的形式通知甲方，书面通知以送达甲方\\(具体部门、职务)为准;};
\node[lk] (p6c11b) at (489.5,6588.2) {2、有关解除或终止劳动合同的事项，按照《\\劳动合同法》等法律、法规有关规定执行。};
\node[lk] (p6c11c) at (489.5,6692) {3、在解除或者终止劳动合同时，乙方应当将\\正在负责的工作事项以及甲方交付乙方使用的\\财物与甲方指定的工作人员进行交接。因乙方\\原因未办理交接造成甲方损失的，由乙方赔偿\\。};
\node[lk] (p6c11d) at (489.5,6768) {4、因解除或者终止劳动合同，乙方依法应获\\得经济补偿金，但乙方未与甲方办理工作交接\\前，甲方暂不支付经济补偿金。};
\node[lk] (p6c12) at (684,6858) {第十二条、因履行本合同发生的争议，双方本\\着合理合法、互谅互让的原则协商处理;协商\\不成的，任何一方可依法向劳动争议仲裁委员\\会申请仲裁。};
\node[lk] (p6c13) at (684,6919.6) {第十三条、本合同未约定的事项，按照法律、\\法规、行政规章以及地方性法规等规定执行。};
\node[lk] (p6c14) at (684,7016.7) {第十四条、本合同自双方签字或盖章后生效，\\一式二份，双方各执一份，本合同的任何条款\\的变更，应当以书面形式经双方签字或者盖章\\确认。};
\coordinate (p6c14x) at (434.7,7016.7);
\node[lk] (p6c14a) at (434.7,6968.5) {甲方(公章)：\blnk{38}乙方(公章)：\blnk{38}};
\node[lk] (p6c14b) at (434.7,7016) {法定代表人(签字)：\blnk{38}};
\node[lk] (p6c14c) at (434.7,7065) {\blnk{45}年\blnk{19}月\blnk{19}日};
\draw[link] (p6cx) |- (p6c1x) (p6cx) |- (p6c2x) (p6cx) |- (p6c3x) (p6cx) |- (p6c4x) (p6cx) |- (p6c5x) (p6cx) |- (p6c6x) (p6cx) |- (p6c7x) (p6cx) |- (p6c8.south west) (p6cx) |- (p6c9.south west) (p6cx) |- (p6c10.south west) (p6cx) |- (p6c11x) (p6cx) |- (p6c12.south west) (p6cx) |- (p6c13.south west) (p6cx) |- (p6c14x);
\draw[link] (p6c1x) |- (p6c1ax) (p6c1x) |- (p6c1b.south west);
\draw[link] (p6c1ax) |- (p6c1a1.south west) (p6c1ax) |- (p6c1a2.south west) (p6c1ax) |- (p6c1a3.south west);
\draw[link] (p6c2x) |- (p6c2a.south west) (p6c7x) |- (p6c7a.south west);
\draw[link] (p6c3x) |- (p6c3a.south west) (p6c3x) |- (p6c3b.south west);
\draw[link] (p6c4x) |- (p6c4a.south west) (p6c4x) |- (p6c4b.south west);
\draw[link] (p6c5x) |- (p6c5a.south west) (p6c5x) |- (p6c5b.south west) (p6c5x) |- (p6c5c.south west);
\draw[link] (p6c6x) |- (p6c6a.south west) (p6c6x) |- (p6c6b.south west);
\draw[link] (p6c11x) |- (p6c11a.south west) (p6c11x) |- (p6c11b.south west) (p6c11x) |- (p6c11c.south west) (p6c11x) |- (p6c11d.south west);
\draw[link] (p6c14x) |- (p6c14a.south west) (p6c14x) |- (p6c14b.south west) (p6c14x) |- (p6c14c.south west);
\end{tikzpicture}
\end{document}
